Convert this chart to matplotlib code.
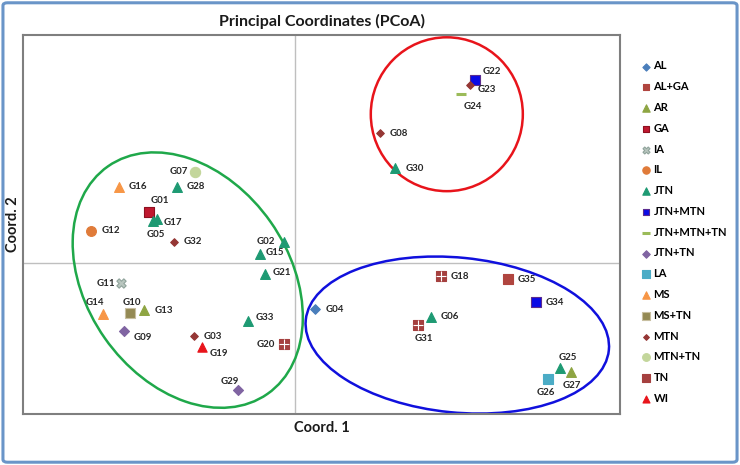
"""PCoA de genotipos con grupos marcados por elipses"""
import matplotlib
matplotlib.use("Agg")
import matplotlib.pyplot as plt
from matplotlib.patches import Ellipse, FancyBboxPatch

plt.rcParams['font.family'] = ['Lato', 'DejaVu Sans']

# Datos
GENOTIPOS = ['G01', 'G02', 'G03', 'G04', 'G05', 'G06', 'G07', 'G08', 'G09', 'G10',
             'G11', 'G12', 'G13', 'G14', 'G15', 'G16', 'G17', 'G18', 'G19', 'G20',
             'G21', 'G22', 'G23', 'G24', 'G25', 'G26', 'G27', 'G28', 'G29', 'G30',
             'G31', 'G32', 'G33', 'G34', 'G35']
COORD1 = [-0.293, -0.023, -0.203, 0.040, -0.285, 0.271, -0.200, 0.169, -0.342, -0.330,
          -0.349, -0.408, -0.302, -0.385, -0.071, -0.353, -0.277, 0.291, -0.186, -0.023,
          -0.061, 0.359, 0.349, 0.332, 0.529, 0.505, 0.552, -0.237, -0.115, 0.200,
          0.245, -0.243, -0.095, 0.481, 0.425]
COORD2 = [0.102, 0.042, -0.147, -0.093, 0.083, -0.108, 0.182, 0.259, -0.137, -0.101,
          -0.041, 0.064, -0.095, -0.103, 0.017, 0.152, 0.087, -0.027, -0.169, -0.163,
          -0.023, 0.365, 0.355, 0.337, -0.211, -0.233, -0.218, 0.152, -0.255, 0.189,
          -0.125, 0.042, -0.116, -0.079, -0.033]
GRUPOS = ['GA', 'JTN', 'MTN', 'AL', 'JTN', 'JTN', 'MTN+TN', 'MTN', 'JTN+TN', 'MS+TN',
          'IA', 'IL', 'AR', 'MS', 'JTN', 'MS', 'JTN', 'TN', 'WI', 'TN',
          'JTN', 'JTN+MTN', 'MTN', 'JTN+MTN+TN', 'JTN', 'LA', 'AR', 'JTN', 'JTN+TN', 'JTN',
          'TN', 'MTN', 'JTN', 'JTN+MTN', 'AL+GA']
CATEGORIAS = ['AL', 'AL+GA', 'AR', 'GA', 'IA', 'IL', 'JTN', 'JTN+MTN', 'JTN+MTN+TN',
              'JTN+TN', 'LA', 'MS', 'MS+TN', 'MTN', 'MTN+TN', 'TN', 'WI']

# Estilos: marcador, color, borde, tamano
ESTILOS = {
    'AL': ('D', '#4A7EBB', '#4A7EBB', 24),
    'AL+GA': ('s', '#B0453F', '#B0453F', 45),
    'AR': ('^', '#8EA543', '#8EA543', 50),
    'GA': ('s', '#C0182F', '#8E1020', 45),
    'IA': ('X', '#B9C6BF', '#8FA39B', 45),
    'IL': ('o', '#E07B39', '#E07B39', 50),
    'JTN': ('^', '#1E9A73', '#1E9A73', 50),
    'JTN+MTN': ('s', '#0A0AE6', '#5B2C8F', 45),
    'JTN+MTN+TN': ('_', '#9BBB59', '#9BBB59', 55),
    'JTN+TN': ('D', '#8064A2', '#8064A2', 26),
    'LA': ('s', '#4BACC6', '#4BACC6', 50),
    'MS': ('^', '#F79646', '#F79646', 50),
    'MS+TN': ('s', '#948A54', '#C8BFA0', 50),
    'MTN': ('D', '#953735', '#953735', 15),
    'MTN+TN': ('o', '#C3D69B', '#C3D69B', 55),
    'TN': ('s', '#A5403F', '#A5403F', 50),
    'WI': ('^', '#E8141B', '#E8141B', 45),
}

# Posicion de etiquetas (desplazamiento en pixeles, alineacion)
ETIQUETAS = {
    'G07': (-7, 0, 'right'), 'G01': (11, 11, 'center'), 'G17': (7, -3, 'left'),
    'G05': (3, -13, 'center'), 'G02': (-9, 0, 'right'), 'G15': (6, 2, 'left'),
    'G21': (8, 2, 'left'), 'G11': (-5, 0, 'right'), 'G14': (-8, 12, 'center'),
    'G10': (2, 11, 'center'), 'G09': (9, -6, 'left'), 'G33': (8, 3, 'left'),
    'G19': (7, -6, 'left'), 'G20': (-9, 0, 'right'), 'G29': (-8, 9, 'center'),
    'G31': (6, -13, 'center'), 'G25': (8, 11, 'center'), 'G26': (-2, -13, 'center'),
    'G27': (0, -14, 'center'), 'G22': (8, 9, 'left'), 'G23': (8, -4, 'left'),
    'G24': (12, -12, 'center'),
}

fig = plt.figure(figsize=(7.4, 4.65), dpi=100)
ax = fig.add_axes([0.0307, 0.1097, 0.8076, 0.8144])

handles = []
for cat in CATEGORIAS:
    xs = [COORD1[i] for i in range(len(GENOTIPOS)) if GRUPOS[i] == cat]
    ys = [COORD2[i] for i in range(len(GENOTIPOS)) if GRUPOS[i] == cat]
    marca, color, borde, tam = ESTILOS[cat]
    lw = 2.2 if marca == '_' else 0.8
    h = ax.scatter(xs, ys, marker=marca, s=tam, c=color, edgecolors=borde,
                   linewidths=lw, zorder=3, label=cat)
    if cat == 'TN':
        ax.scatter(xs, ys, marker='+', s=50, c='white', linewidths=0.8, zorder=4)
    handles.append(h)

for i, nombre in enumerate(GENOTIPOS):
    dx, dy, ha = ETIQUETAS.get(nombre, (10, 0, 'left'))
    ax.annotate(nombre, (COORD1[i], COORD2[i]), xytext=(dx, dy),
                textcoords='offset pixels', ha=ha, va='center',
                fontsize=7, fontweight='bold', color='#262626', zorder=5)

# Elipses de los grupos
ax.add_patch(Ellipse((-0.215, -0.035), 0.556, 0.405, angle=-55, fill=False,
                     edgecolor='#1FA84A', lw=1.8, zorder=2))
ax.add_patch(Ellipse((0.303, 0.297), 0.304, 0.308, angle=0, fill=False,
                     edgecolor='#E8141B', lw=1.8, zorder=2))
ax.add_patch(Ellipse((0.324, -0.145), 0.609, 0.310, angle=-5.7, fill=False,
                     edgecolor='#1010DD', lw=1.8, zorder=2))

ax.axhline(0, color='#BFBFBF', lw=1, zorder=1)
ax.axvline(0, color='#BFBFBF', lw=1, zorder=1)
ax.set_xlim(-0.545, 0.650)
ax.set_ylim(-0.303, 0.455)
ax.set_xticks([])
ax.set_yticks([])
for sp in ax.spines.values():
    sp.set_color('#7F7F7F')
    sp.set_linewidth(1.5)

ax.set_title('Principal Coordinates (PCoA)', fontsize=11.5, fontweight='bold',
             color='#1A1A1A', pad=7)
ax.set_xlabel('Coord. 1', fontsize=10.5, fontweight='bold', color='#1A1A1A', labelpad=5)
ax.set_ylabel('Coord. 2', fontsize=10.5, fontweight='bold', color='#1A1A1A', labelpad=2)

fig.legend(handles, CATEGORIAS, loc='upper left', bbox_to_anchor=(0.868, 0.870),
           frameon=False, handlelength=0.6, handletextpad=0.4, labelspacing=0.88,
           borderaxespad=0, borderpad=0, markerscale=0.75,
           prop={'size': 8, 'weight': 'bold'})

# Marco exterior
fig.patches.append(FancyBboxPatch((0.004, 0.006), 0.992, 0.988,
                                  boxstyle='round,pad=0,rounding_size=0.006',
                                  transform=fig.transFigure, fill=False,
                                  edgecolor='#6A95C8', lw=2.2))

plt.savefig('out.png', dpi=100)
